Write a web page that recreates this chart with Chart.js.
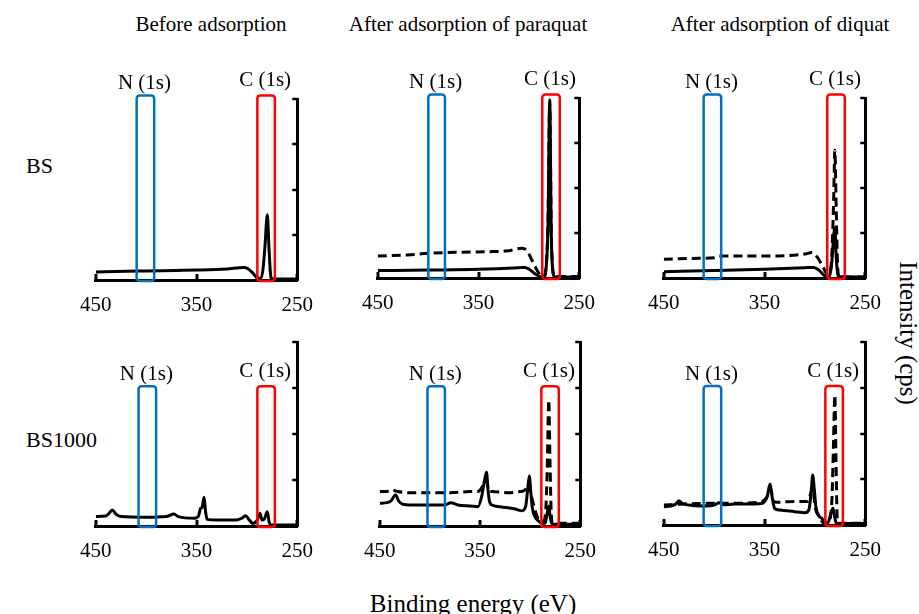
<!DOCTYPE html>
<html>
<head>
<meta charset="utf-8">
<script src="https://cdn.jsdelivr.net/npm/chart.js@4.4.1/dist/chart.umd.min.js"></script>
<style>
    body { margin: 0; width: 919px; height: 614px; position: relative; overflow: hidden; background: #fff;
           font-family: "Liberation Serif", "Times New Roman", serif; color: #000; }
    canvas { position: absolute; }
    .txt { position: absolute; line-height: 1; white-space: nowrap; }
</style>
</head>
<body>
<div class="txt" style="font-size:21px; left:211px; top:14px; transform:translateX(-50%)">Before adsorption</div>
<div class="txt" style="font-size:21px; left:468px; top:14px; transform:translateX(-50%)">After adsorption of paraquat</div>
<div class="txt" style="font-size:21px; left:780px; top:14px; transform:translateX(-50%)">After adsorption of diquat</div>
<div class="txt" style="font-size:22px; left:26px; top:155px">BS</div>
<div class="txt" style="font-size:22px; left:26px; top:429px">BS1000</div>
<div class="txt" style="font-size:25px; left:473px; top:591px; transform:translateX(-50%)">Binding energy (eV)</div>
<div class="txt" style="font-size:25px; left:908px; top:333px; transform:translate(-50%,-50%) rotate(90deg)">Intensity (cps)</div>

<script>
// axis ticks
const energyTicks = [450, 350, 250];
const intensityTicks = [0, 25, 50, 75, 100];

// spectra, [binding energy (eV), intensity (% of panel height)]
const bsBefore = [[450,4.4],[420,4.8],[400,5],[370,5.3],[350,5.5],[320,6.1],[303,6.9],[299,6.2],[294,3.8],[289,1],[286,1.2],[284,6],[282,19],[279.7,36],[278,17],[276.3,2],[275,0.6],[250,0.5]];

const bsParaquat = [[450,4.1],[400,4.4],[350,4.8],[310,5.7],[304,5.9],[300,5],[293,2],[288,0.6],[285.5,0.5],[283,5],[281,30],[279.3,99],[277.8,25],[276,3],[274.5,0.6],[250,0.6]];
const bsParaquatDashed = [[450,12.2],[420,12.8],[400,13.7],[370,14.3],[340,14.6],[320,15.2],[307,16.5],[302,15.2],[297,10],[291,3.5],[287,0.7],[285,1],[283,6],[281,32],[279.3,97],[277.8,28],[276,3],[274.5,0.8],[250,0.8]];

const bsDiquat = [[450,3.5],[400,4.1],[350,4.8],[310,5.7],[301,5.9],[296,4.4],[290,1.1],[287,0.5],[285,2],[283,10],[281.5,22],[280.2,28],[279,14],[277.8,4],[276.5,0.8],[250,0.5]];
const bsDiquatDashed = [[450,10.4],[420,10.9],[400,11.3],[396,12.2],[370,12.2],[340,12.2],[310,13.3],[303,14.1],[298,11.9],[292,6.3],[287,1.7],[285,3],[283,15],[281.3,45],[280.2,71],[278.8,38],[277.5,8],[276.5,1.5],[275,0.5],[250,0.5]];

const bs1000Before = [[450,5.1],[440,5.4],[436.8,6.9],[433.6,8.7],[430,6.5],[425,5.1],[400,4.7],[380,5.1],[372.4,6.5],[368,5.1],[352,4.2],[348,5.4],[346,9.6],[344.5,10],[342.5,15.6],[341,7.8],[339.5,3.6],[330,3.3],[310,3.3],[305,4.2],[301.5,5.6],[297,2.9],[294,1.4],[290,2.9],[287,6.9],[285,3.3],[283,3.6],[279.7,7.8],[278,2.4],[276,0.5],[250,0.5]];

const bs1000Paraquat = [[450,12.3],[443,12.7],[439,13.5],[434.2,16.8],[431,13.5],[427,11.8],[420,11.4],[400,11.4],[385,11.4],[379,12.7],[372,11.4],[360,10.9],[352,10.5],[348.4,15.9],[346,23.2],[343.5,29.2],[342,19.6],[340.5,13.2],[338,11.4],[330,10.5],[315,9.2],[308,8.3],[304.5,10.5],[302.5,19.6],[300.8,27.2],[299.5,19.6],[298,10.5],[296,6],[292,2.9],[288,1.4],[285,1.6],[283.3,6],[281.4,10.9],[280,5.1],[278.5,1.4],[277,1],[250,1]];
const bs1000ParaquatDashed = [[450,18.7],[444,18.7],[438,19.6],[432,18.7],[420,18.1],[400,18.1],[380,18.1],[360,18.7],[352,18.7],[348,21],[344,25],[341,19],[338,18.7],[320,18.1],[310,18.7],[305,19.6],[301.5,23],[299,16.8],[296,10.5],[293,5.1],[290,2.9],[287,2.4],[284.5,8],[283,30],[281.4,68.5],[280.1,33],[279,8],[277.5,1.5],[250,1.5]];

const bs1000Diquat = [[450,10],[443,10.4],[438,11.5],[434.8,13.3],[432,11.9],[425,10.9],[410,10.4],[400,10.9],[395,12.2],[390,11],[380,11.5],[360,11.5],[352,11.9],[347.3,15.5],[344.5,22.4],[342.5,15.5],[340,9.1],[335,8.2],[320,7.3],[310,6.7],[306,8.2],[303.5,19.1],[302.2,27.3],[300.5,19.1],[299,10],[296,4.9],[293,3.6],[290,1.3],[287,1.3],[284.5,5.5],[282,9.1],[280.5,5],[279,1.3],[277,0.8],[250,0.8]];
const bs1000DiquatDashed = [[450,10.9],[430,11.5],[400,11.9],[380,11.9],[355,12.4],[348,15],[344,20],[341,13],[338,12.4],[320,12.9],[307,12.9],[302.2,20],[299.5,9.1],[296,5],[292,1.3],[288,0.5],[285,3],[283,15],[281.5,45],[280.2,71],[279,35],[278,6],[277,1],[250,1]];

// highlighted energy windows per panel (eV)
const nBoxes = [[392,409.4],[383.3,399.8],[393,410.4],[390.1,407.5],[385,402.4],[393,410.4]];
const cBoxes = [[272.2,289.6],[269.3,286.7],[270.3,287.7],[272.2,289.6],[271.4,288.8],[272.2,289.6]];
const boxTops = [102, 102, 102, 76, 76, 76];

// plot area of every panel on the page: left, top, right, bottom
const panels = [
    { area: [93, 99, 300, 280],  solid: bsBefore,       dashed: null },
    { area: [375, 98, 582, 278], solid: bsParaquat,     dashed: bsParaquatDashed },
    { area: [661, 98, 868, 278], solid: bsDiquat,       dashed: bsDiquatDashed },
    { area: [93, 342, 300, 526], solid: bs1000Before,   dashed: null },
    { area: [377, 342, 583, 526], solid: bs1000Paraquat, dashed: bs1000ParaquatDashed },
    { area: [661, 342, 868, 525], solid: bs1000Diquat,   dashed: bs1000DiquatDashed }
];

Chart.defaults.font.family = '"Liberation Serif", "Times New Roman", serif';
Chart.defaults.color = '#000';

const toPoints = (arr) => arr.map(([e, v]) => ({ x: e, y: v }));

const makeDecor = (index) => ({
    id: "decor" + index,
    afterDatasetsDraw(chart) {
        const { ctx, chartArea, scales: { x, y } } = chart;
        ctx.save();
        ctx.strokeStyle = "#000";
        ctx.lineWidth = 3;
        energyTicks.forEach((v) => {
            const px = Math.round(x.getPixelForValue(v));
            ctx.beginPath();
            ctx.moveTo(px, chartArea.bottom);
            ctx.lineTo(px, chartArea.bottom - 6);
            ctx.stroke();
        });
        ctx.lineWidth = 2.5;
        intensityTicks.forEach((v) => {
            const py = Math.round(y.getPixelForValue(v));
            ctx.beginPath();
            ctx.moveTo(chartArea.right, py);
            ctx.lineTo(chartArea.right - 5, py);
            ctx.stroke();
        });
        const boxes = [
            [nBoxes[index], "#0070c0", "N (1s)", 6],
            [cBoxes[index], "#ff0000", "C (1s)", 9]
        ];
        boxes.forEach(([range, color, label, gap]) => {
            const x1 = x.getPixelForValue(Math.max(...range));
            const x2 = x.getPixelForValue(Math.min(...range));
            const y1 = y.getPixelForValue(boxTops[index]);
            const y2 = y.getPixelForValue(-0.5);
            ctx.strokeStyle = color;
            ctx.lineWidth = 2.5;
            ctx.beginPath();
            ctx.roundRect(x1, y1, x2 - x1, y2 - y1, 3);
            ctx.stroke();
            ctx.fillStyle = "#000";
            ctx.font = '21px "Liberation Serif"';
            ctx.textAlign = "center";
            ctx.textBaseline = "alphabetic";
            ctx.fillText(label, (x1 + x2) / 2 - 1, y1 - gap);
        });
        ctx.restore();
    }
});

panels.forEach((panel, index) => {
    const [left, top, right, bottom] = panel.area;
    const padL = 26, padR = 26, padT = 32, axisH = 42;
    const canvas = document.createElement("canvas");
    canvas.width = (right - left) + padL + padR;
    canvas.height = (bottom - top) + padT + axisH;
    canvas.style.width = canvas.width + "px";
    canvas.style.height = canvas.height + "px";
    canvas.style.left = (left - padL) + "px";
    canvas.style.top = (top - padT) + "px";
    document.body.appendChild(canvas);

    const datasets = [];
    if (panel.dashed) {
        datasets.push({
            data: toPoints(panel.dashed),
            borderColor: "#000",
            borderWidth: 3,
            borderDash: [9, 5],
            pointRadius: 0,
            fill: false,
            cubicInterpolationMode: "monotone"
        });
    }
    datasets.push({
        data: toPoints(panel.solid),
        borderColor: "#000",
        borderWidth: 3,
        pointRadius: 0,
        fill: false,
        cubicInterpolationMode: "monotone"
    });

    new Chart(canvas, {
        type: "line",
        data: { datasets: datasets },
        options: {
            responsive: false,
            animation: false,
            devicePixelRatio: 1,
            layout: { padding: { left: padL, right: padR, top: padT, bottom: 0 } },
            plugins: { legend: { display: false }, tooltip: { enabled: false } },
            scales: {
                x: {
                    type: "linear",
                    reverse: true,
                    min: 250,
                    max: 450,
                    afterBuildTicks: (s) => { s.ticks = energyTicks.map((v) => ({ value: v })); },
                    afterFit: (s) => { s.height = axisH; },
                    grid: { display: false, drawTicks: false },
                    border: { display: true, color: "#000", width: 3 },
                    ticks: { autoSkip: false, maxRotation: 0, padding: 13, font: { size: 21 } }
                },
                y: {
                    type: "linear",
                    position: "right",
                    min: 0,
                    max: 100,
                    afterFit: (s) => { s.width = 0; },
                    grid: { display: false, drawTicks: false },
                    border: { display: true, color: "#000", width: 3 },
                    ticks: { display: false }
                }
            }
        },
        plugins: [makeDecor(index)]
    });
});
</script>
</body>
</html>
